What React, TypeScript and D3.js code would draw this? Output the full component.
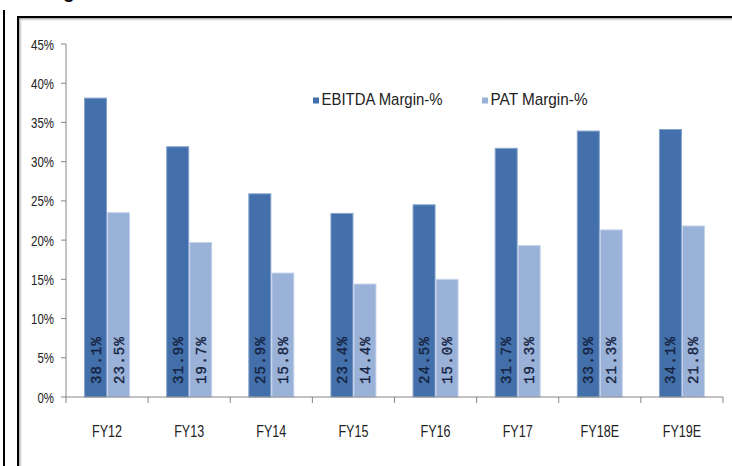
import React from "react";
import * as d3 from "d3";

const categories = ["FY12", "FY13", "FY14", "FY15", "FY16", "FY17", "FY18E", "FY19E"];
const seriesNames = ["EBITDA Margin-%", "PAT Margin-%"];
const ebitda = [38.1, 31.9, 25.9, 23.4, 24.5, 31.7, 33.9, 34.1];
const pat = [23.5, 19.7, 15.8, 14.4, 15.0, 19.3, 21.3, 21.8];
const yTicks = [0, 5, 10, 15, 20, 25, 30, 35, 40, 45];

const colors = ["#4370aa", "#9bb2d8"];
const edgeColors = ["#86a3cc", "#c4d2ea"];

export default function App() {
  const W = 732;
  const H = 466;
  const x0 = 66;
  const x1 = 723;
  const yBase = 397;
  const yTop = 44;

  const x = d3.scaleBand<string>().domain(categories).range([x0, x1]).paddingInner(0.44).paddingOuter(0.22);
  const xs = d3.scaleBand<string>().domain(seriesNames).range([0, x.bandwidth()]).padding(0);
  const y = d3.scaleLinear().domain([0, 45]).range([yBase, yTop]);
  const step = x.step();
  const values = [ebitda, pat];

  const sans = "'Liberation Sans', Arial, sans-serif";

  return (
    <svg
      width={W}
      height={H}
      viewBox={`0 0 ${W} ${H}`}
      style={{ position: "absolute", left: 0, top: 0, background: "#fff" }}
    >
      <defs>
        <linearGradient id="shadeL" x1="0" x2="1" y1="0" y2="0">
          <stop offset="0" stopColor="#9a9a9a" />
          <stop offset="1" stopColor="#ffffff" stopOpacity="0" />
        </linearGradient>
        <linearGradient id="shadeT" x1="0" x2="0" y1="0" y2="1">
          <stop offset="0" stopColor="#9a9a9a" />
          <stop offset="1" stopColor="#ffffff" stopOpacity="0" />
        </linearGradient>
      </defs>
      <rect x={0} y={0} width={W} height={H} fill="#fff" />
      {/* cropped title descender */}
      <text x={63} y={-2} fontFamily={sans} fontWeight="bold" fontSize={19} fill="#000">
        g
      </text>
      {/* outer frame lines */}
      <line x1={4} x2={4} y1={10} y2={H} stroke="#000" strokeWidth={2} />
      <rect x={19} y={18} width={4} height={H - 18} fill="url(#shadeL)" />
      <rect x={19} y={18} width={W - 19} height={4} fill="url(#shadeT)" />
      <line x1={18} x2={18} y1={16} y2={H} stroke="#000" strokeWidth={2} />
      <line x1={17} x2={W} y1={17} y2={17} stroke="#000" strokeWidth={2} />

      {/* y axis */}
      <line x1={x0} x2={x0} y1={yTop} y2={yBase} stroke="#868686" strokeWidth={1} />
      {yTicks.map((t) => (
        <g key={t}>
          <line x1={x0 - 5} x2={x0} y1={y(t)} y2={y(t)} stroke="#868686" />
          <text
            transform={`translate(54,${y(t)}) scale(0.74,1)`}
            dy="0.36em"
            textAnchor="end"
            fontFamily={sans}
            fontSize={15.5}
            fill="#222"
          >
            {t}%
          </text>
        </g>
      ))}

      {/* bars */}
      {categories.map((c, i) => (
        <g key={c}>
          {seriesNames.map((s, k) => {
            const v = values[k][i];
            const bx = (x(c) as number) + (xs(s) as number);
            const bw = xs.bandwidth();
            return (
              <g key={s}>
                <rect
                  x={bx + 0.5}
                  y={y(v)}
                  width={bw - 1}
                  height={yBase - y(v)}
                  fill={colors[k]}
                  stroke={edgeColors[k]}
                  strokeWidth={1}
                />
                <text
                  transform={`translate(${bx + bw / 2},${yBase - 13}) rotate(-90)`}
                  dy="0.36em"
                  fontFamily="'Liberation Mono', 'DejaVu Sans Mono', monospace"
                  fontSize={14}
                  letterSpacing={1.2}
                  fill="#15223f"
                  stroke="#15223f"
                  strokeWidth={0.35}
                >
                  {v.toFixed(1)}%
                </text>
              </g>
            );
          })}
        </g>
      ))}

      {/* x axis */}
      <line x1={x0} x2={x1} y1={yBase} y2={yBase} stroke="#868686" strokeWidth={1} />
      {d3.range(categories.length + 1).map((j) => (
        <line
          key={j}
          x1={x0 + j * step}
          x2={x0 + j * step}
          y1={yBase}
          y2={yBase + 6}
          stroke="#868686"
        />
      ))}
      {categories.map((c) => (
        <text
          key={c}
          transform={`translate(${(x(c) as number) + x.bandwidth() / 2},437) scale(0.74,1)`}
          textAnchor="middle"
          fontFamily={sans}
          fontSize={17}
          fill="#222"
        >
          {c}
        </text>
      ))}

      {/* legend */}
      {seriesNames.map((s, k) => {
        const lx = [313, 482][k];
        const tl = [121, 97][k];
        return (
          <g key={s}>
            <rect x={lx} y={97.5} width={6} height={6} fill={colors[k]} />
            <text
              x={lx + 8.5}
              y={104.5}
              fontFamily={sans}
              fontSize={17}
              textLength={tl}
              lengthAdjust="spacingAndGlyphs"
              fill="#222"
            >
              {s}
            </text>
          </g>
        );
      })}
    </svg>
  );
}
